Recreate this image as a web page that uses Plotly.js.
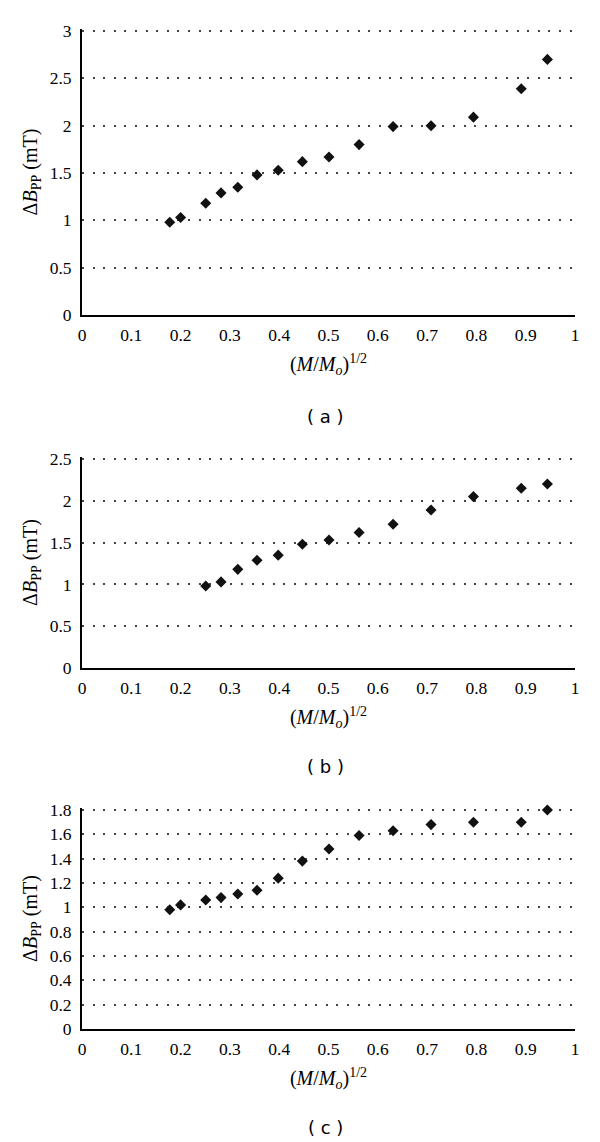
<!DOCTYPE html>
<html>
<head>
<meta charset="utf-8">
<script src="https://cdn.plot.ly/plotly-3.0.1.min.js"></script>
<style>html,body{margin:0;padding:0;background:#fff;}#chart{width:600px;height:1142px;}</style>
</head>
<body>
<div id="chart"></div>
<script>
// Panel (a)
const xA = [0.178, 0.200, 0.251, 0.282, 0.316, 0.355, 0.398, 0.447, 0.501, 0.562, 0.631, 0.708, 0.794, 0.891, 0.944];
const yA = [0.98, 1.03, 1.18, 1.29, 1.35, 1.48, 1.53, 1.62, 1.67, 1.80, 1.99, 2.00, 2.09, 2.39, 2.70];
// Panel (b)
const xB = [0.251, 0.282, 0.316, 0.355, 0.398, 0.447, 0.501, 0.562, 0.631, 0.708, 0.794, 0.891, 0.944];
const yB = [0.98, 1.03, 1.18, 1.29, 1.35, 1.48, 1.53, 1.62, 1.72, 1.89, 2.05, 2.15, 2.20];
// Panel (c)
const xC = [0.178, 0.200, 0.251, 0.282, 0.316, 0.355, 0.398, 0.447, 0.501, 0.562, 0.631, 0.708, 0.794, 0.891, 0.944];
const yC = [0.98, 1.02, 1.06, 1.08, 1.11, 1.14, 1.24, 1.38, 1.48, 1.59, 1.63, 1.68, 1.70, 1.70, 1.80];

const panelLabels = ['( a )', '( b )', '( c )'];
const yMax = [3, 2.5, 1.8];
const yDticks = [0.5, 0.5, 0.2];
const xTitleText = '(<i>M</i>/<i>M</i><sub><i>o</i></sub>)<sup>1/2</sup>';
const yTitleText = 'Δ<i>B</i><sub>PP</sub> (mT)';

const W = 600, H = 1142;
const serif = "'Liberation Serif', 'Times New Roman', serif";
const sans = "'DejaVu Sans', Verdana, sans-serif";
const xDom = [82 / W, 575 / W];
// pixel positions of the top value line and the zero line of each panel
const tops = [31, 459, 810];
const bots = [315, 668, 1029];
const labYs = [417, 766, 1127];
const PAD = 2; // extra px above the top gridline so that it is drawn

const series = [[xA, yA], [xB, yB], [xC, yC]];
const traces = series.map((s, i) => ({
  type: 'scatter', mode: 'markers',
  x: s[0], y: s[1],
  xaxis: i === 0 ? 'x' : 'x' + (i + 1),
  yaxis: i === 0 ? 'y' : 'y' + (i + 1),
  marker: {symbol: 'diamond', size: 8.5, color: '#111'},
  cliponaxis: false,
  showlegend: false, hoverinfo: 'x+y'
}));

const layout = {
  width: W, height: H,
  margin: {l: 0, r: 0, t: 0, b: 0},
  paper_bgcolor: '#fff', plot_bgcolor: '#fff',
  showlegend: false,
  annotations: []
};

for (let i = 0; i < 3; i++) {
  const sx = i === 0 ? 'xaxis' : 'xaxis' + (i + 1);
  const sy = i === 0 ? 'yaxis' : 'yaxis' + (i + 1);
  const plotH = bots[i] - tops[i];
  const ext = yMax[i] * PAD / plotH;
  const yd = [1 - bots[i] / H, 1 - (tops[i] - PAD) / H];
  layout[sx] = {
    domain: xDom, range: [0, 1], dtick: 0.1, tick0: 0,
    anchor: i === 0 ? 'y' : 'y' + (i + 1),
    showgrid: false, zeroline: false,
    showline: true, linecolor: '#000', linewidth: 2,
    ticks: 'outside', ticklen: 3, tickcolor: 'rgba(0,0,0,0)',
    tickfont: {family: serif, size: 17.5, color: '#000'},
    automargin: false,
    title: {text: xTitleText, font: {family: serif, size: 20, color: '#000'}, standoff: 13},
    fixedrange: true
  };
  layout[sy] = {
    domain: yd, range: [0, yMax[i] + ext], dtick: yDticks[i], tick0: 0,
    anchor: i === 0 ? 'x' : 'x' + (i + 1),
    showgrid: true, gridcolor: '#444', gridwidth: 2, griddash: '2px,8.6px',
    zeroline: false,
    showline: true, linecolor: '#000', linewidth: 2,
    ticks: 'outside', ticklen: 5, tickcolor: 'rgba(0,0,0,0)',
    tickfont: {family: serif, size: 17.5, color: '#000'},
    automargin: false,
    title: {text: yTitleText, font: {family: serif, size: 20, color: '#000'}, standoff: 7},
    fixedrange: true
  };
  layout.annotations.push({
    text: panelLabels[i], xref: 'paper', yref: 'paper',
    x: 325 / W, y: 1 - labYs[i] / H, xanchor: 'center', yanchor: 'middle',
    showarrow: false, font: {family: sans, size: 18, color: '#000'}
  });
}

Plotly.newPlot('chart', traces, layout, {displayModeBar: false, staticPlot: true});
</script>
</body>
</html>
